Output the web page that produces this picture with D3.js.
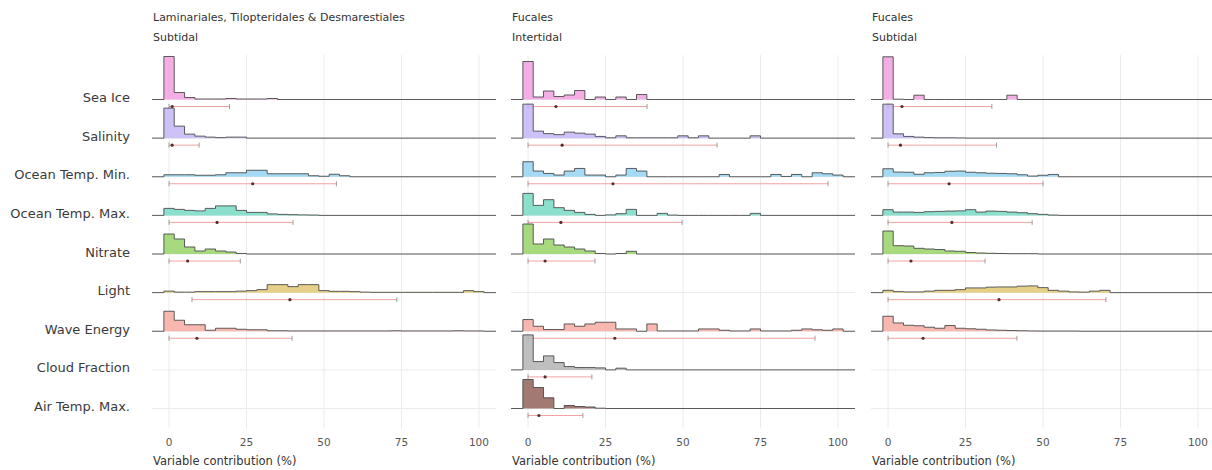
<!DOCTYPE html>
<html>
<head>
<meta charset="utf-8">
<script src="https://cdn.jsdelivr.net/npm/d3@7"></script>
<style>
  body { margin: 0; background: #fff; }
  text { font-family: "DejaVu Sans", sans-serif; }
</style>
</head>
<body>
<script>
// rows, top to bottom
var variables = ["Sea Ice", "Salinity", "Ocean Temp. Min.", "Ocean Temp. Max.", "Nitrate",
                 "Light", "Wave Energy", "Cloud Fraction", "Air Temp. Max."];
var fills = ["#f3a0e1", "#c6b6f6", "#94d4f2", "#76d9c4", "#98d269",
             "#e2c873", "#f7aba2", "#b4b4b4", "#93625c"];

var panelOrders = ["Laminariales, Tilopteridales & Desmarestiales", "Fucales", "Fucales"];
var panelZones = ["Subtidal", "Intertidal", "Subtidal"];
var xTicks = [0, 25, 50, 75, 100];

// histogram bins are 10/3 % wide, centred on 0, 3.33, 6.67 ...
var binWidth = 10 / 3;

// bin heights per variable (null = variable not used for that group)
var lamSubBins = [
  [43, 7, 2, 0.5, 0.5, 0.5, 1, 0.5, 0.5, 0.5, 1],
  [30, 12, 4, 2, 1, 0.5, 1, 1],
  [2, 2, 2, 1.5, 1.5, 2, 4, 4, 6.5, 6.5, 3, 3, 3, 3, 1, 0.5, 2.5, 1],
  [7, 6, 5, 4.5, 7, 9.5, 9.5, 5, 3, 3, 1.5, 1, 0.7, 0.5, 0.3],
  [20, 15, 7, 3, 5, 3, 2, 0.5],
  [1.5, 0.5, 0.5, 1, 1, 1, 1, 1.5, 2, 3, 8, 8, 6, 8, 8, 2, 1.3, 1.3, 1, 0.5, 0.3, 0.3, 0.3, 0.3, 0.3, 0.3, 0.3, 0.3, 0.3, 2, 1],
  [20, 11, 6.5, 6.5, 1, 3, 3, 2, 1.5, 1.5, 0.5, 0.5, 0.3, 0.3, 0.3, 0.3, 0.3, 0.3, 0.3, 0.3, 0.3, 0.3, 0.5, 0.3, 0.3, 0.3, 0.3, 0.3, 0.5, 0.3, 0.3],
  null,
  null
];
var fucIntBins = [
  [38, 2.5, 8.5, 3, 4.5, 9, 0, 2.5, 0, 2.5, 0, 5],
  [34, 7, 4.5, 3.5, 6, 5, 4, 1.7, 0.3, 2.3, 0.3, 0.3, 0.3, 0.3, 0.3, 2.3, 0.3, 2.3, 0, 0, 0, 0, 2.3],
  [15, 5.7, 3.3, 1.7, 5.7, 8.3, 1.7, 1.7, 0, 1.7, 8.3, 5.7, 0, 0, 0, 0, 0, 0, 0, 2.3, 0, 0, 0, 0, 2.3, 0.3, 2.3, 0, 4, 3, 1.7],
  [22, 10, 15.7, 7.7, 5, 3, 1, 0, 0.5, 1.7, 6, 0, 0, 2, 0.3, 0, 0, 0, 0, 0, 0, 0, 2],
  [30, 10, 15, 9, 7, 5, 3, 0.5, 0, 0.5, 2.7],
  null,
  [11.7, 5, 1.7, 1.7, 7.3, 5, 7.3, 9, 9, 2.3, 2.3, 0, 7.3, 0.3, 0.3, 0.3, 0.3, 2.3, 2.3, 1, 0.3, 0.3, 2.3, 0.3, 0.3, 0.3, 1, 2.3, 1.5, 1, 2.3],
  [35, 8.3, 14, 7.3, 3.3, 2.3, 2.3, 2, 0, 1.7],
  [29, 21, 10.7, 0, 3, 2, 1.5, 0.3]
];
var fucSubBins = [
  [42.7, 0.3, 0, 4.3, 0, 0, 0, 0, 0, 0, 0, 0, 4.3],
  [34, 4.3, 1.7, 1, 0.5, 0.3, 0.3, 0.2],
  [8, 4.7, 4.5, 2.5, 4, 4.3, 5.5, 5.7, 4.5, 4, 3.5, 3.3, 3, 2, 0.7, 1.5, 2.3],
  [5.7, 3.3, 3.3, 3, 3.7, 4, 4.3, 4.5, 5.7, 3.3, 4.3, 4, 3.3, 2.7, 1.7, 1, 0.3],
  [23, 8.3, 8, 5.7, 5, 4.5, 3, 2.7, 1.5, 1, 0.7, 0.5, 0.3, 0.3, 0.3],
  [2.3, 1, 0.7, 0.7, 1.5, 2.3, 2.3, 3, 4.7, 4.7, 5.5, 5.7, 5.7, 6.5, 6.7, 5, 2.3, 1.5, 0.7, 0.5, 1.5, 2.3],
  [15, 8.3, 6, 5.5, 4, 3, 5.7, 3, 2.5, 2, 1.3, 1, 0.7, 0.5, 0.3, 0.2, 0.2, 0.2, 0.2],
  null,
  null
];

// interval under each ridge: [low, centre, high]
var lamSubInt = [[0, 1, 19.5], [0, 1, 9.7], [0, 27, 54], [0, 15.5, 40], [0, 6, 23],
                 [7.4, 39, 73.5], [0, 9, 39.7], null, null];
var fucIntInt = [[0, 9, 38.4], [0, 11, 61], [0, 27.4, 96.8], [0, 10.6, 49.7], [0, 5.5, 21.6],
                 null, [0, 28, 92.6], [0, 5.5, 20.6], [0, 3.5, 17.7]];
var fucSubInt = [[0, 4.5, 33.5], [0, 4, 35], [0, 19.7, 50], [0, 20.6, 46.5], [0, 7.4, 31.3],
                 [0, 35.8, 70.3], [0, 11.3, 41.6], null, null];

var panelBins = [lamSubBins, fucIntBins, fucSubBins];
var panelInts = [lamSubInt, fucIntInt, fucSubInt];

//Viz space
var width = 1212, height = 470;
var panelLeft = [152, 511, 871], panelW = 344;

var svg = d3.select("body").append("svg")
    .attr("width", width)
    .attr("height", height);

var y = d3.scalePoint().domain(variables).range([99.5, 408.5]);
var h = d3.scaleLinear().domain([0, 40]).range([0, 40]);

// row labels
svg.selectAll(".rowlab").data(variables).enter()
  .append("text")
    .attr("class", "rowlab")
    .attr("x", 130)
    .attr("y", function(d) { return y(d) - 2; })
    .attr("text-anchor", "end")
    .attr("dominant-baseline", "central")
    .style("font-size", "13px")
    .style("fill", "#3a3a3a")
    .text(function(d) { return d; });

panelOrders.forEach(function(order, p) {
  var x = d3.scaleLinear().domain([-5.5, 105.5]).range([panelLeft[p], panelLeft[p] + panelW]);
  var g = svg.append("g");

  // grid
  g.selectAll(".vgrid").data(xTicks).enter().append("line")
    .attr("x1", function(d) { return x(d); }).attr("x2", function(d) { return x(d); })
    .attr("y1", 55).attr("y2", 428)
    .attr("stroke", "#ebebeb").attr("stroke-width", 1);
  g.selectAll(".hgrid").data(variables).enter().append("line")
    .attr("x1", x.range()[0]).attr("x2", x.range()[1])
    .attr("y1", function(d) { return y(d); }).attr("y2", function(d) { return y(d); })
    .attr("stroke", "#ebebeb").attr("stroke-width", 1);

  // titles
  g.append("text").attr("x", panelLeft[p] + 1).attr("y", 21)
    .style("font-size", "11px").style("fill", "#333").text(order);
  g.append("text").attr("x", panelLeft[p] + 1).attr("y", 41)
    .style("font-size", "11px").style("fill", "#333").text(panelZones[p]);

  // tick labels + axis title
  g.selectAll(".tick").data(xTicks).enter().append("text")
    .attr("x", function(d) { return x(d); }).attr("y", 446)
    .attr("text-anchor", "middle")
    .style("font-size", "10.5px").style("fill", "#555")
    .text(function(d) { return d; });
  g.append("text").attr("x", panelLeft[p] + 1).attr("y", 465)
    .style("font-size", "11.5px").style("fill", "#333").text("Variable contribution (%)");

  // ridges
  variables.forEach(function(v, i) {
    var bins = panelBins[p][i];
    if (!bins) return;
    var base = y(v);
    var pts = [{x: -5.5, v: 0}];
    bins.forEach(function(b, k) { pts.push({x: (k - 0.5) * binWidth, v: b}); });
    pts.push({x: (bins.length - 0.5) * binWidth, v: 0});
    pts.push({x: 105.5, v: 0});

    var area = d3.area().curve(d3.curveStepAfter)
      .x(function(d) { return x(d.x); })
      .y0(base)
      .y1(function(d) { return base - h(d.v); });
    var line = d3.line().curve(d3.curveStepAfter)
      .x(function(d) { return x(d.x); })
      .y(function(d) { return base - h(d.v); });

    g.append("path").attr("d", area(pts))
      .attr("fill", fills[i]).attr("fill-opacity", 0.85);
    g.append("path").attr("d", line(pts))
      .attr("fill", "none").attr("stroke", "#4a4a4a").attr("stroke-width", 0.9);

    var iv = panelInts[p][i];
    if (iv) {
      var iy = base + 7;
      g.append("line")
        .attr("x1", x(iv[0])).attr("x2", x(iv[2]))
        .attr("y1", iy).attr("y2", iy)
        .attr("stroke", "#ee8a8a").attr("stroke-width", 0.8);
      [iv[0], iv[2]].forEach(function(e) {
        g.append("line")
          .attr("x1", x(e)).attr("x2", x(e))
          .attr("y1", iy - 2.5).attr("y2", iy + 2.5)
          .attr("stroke", "#888").attr("stroke-width", 0.8);
      });
      g.append("circle").attr("cx", x(iv[1])).attr("cy", iy).attr("r", 1.6)
        .attr("fill", "#5a2a2a");
    }
  });
});
</script>
</body>
</html>
